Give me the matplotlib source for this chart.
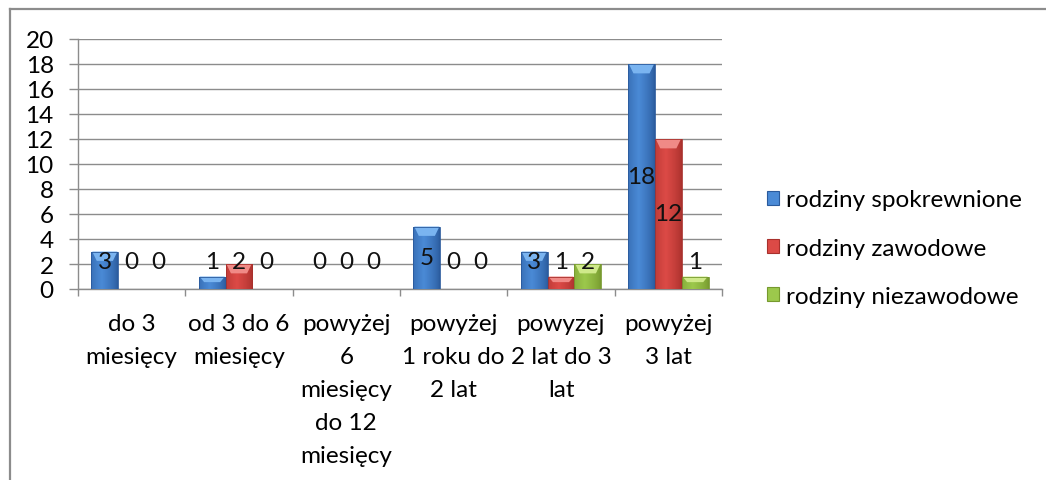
import numpy as np
import matplotlib
matplotlib.use("Agg")
import matplotlib.pyplot as plt
from matplotlib.patches import Polygon, Patch
from matplotlib.lines import Line2D
from matplotlib.colors import to_rgb

plt.rcParams['font.family'] = ['Lato', 'DejaVu Sans']

categories = ["do 3\nmiesięcy", "od 3 do 6\nmiesięcy",
              "powyżej\n6\nmiesięcy\ndo 12\nmiesięcy",
              "powyżej\n1 roku do\n2 lat", "powyzej\n2 lat do 3\nlat",
              "powyżej\n3 lat"]
series_names = ["rodziny spokrewnione", "rodziny zawodowe", "rodziny niezawodowe"]
spokrewnione = [3, 1, 0, 5, 3, 18]
zawodowe = [0, 2, 0, 0, 1, 12]
niezawodowe = [0, 0, 0, 0, 2, 1]
yticks = [0, 2, 4, 6, 8, 10, 12, 14, 16, 18, 20]

series = [spokrewnione, zawodowe, niezawodowe]
# (dark edge, mid, light top)
palettes = [("#2a5a9c", "#4a8ad6", "#7ab4f0"),
            ("#a8302c", "#dc4a46", "#f08a86"),
            ("#76992e", "#9cc84c", "#cfe98a")]

FS = 17.5

fig = plt.figure(figsize=(10.46, 4.81), dpi=100)
ax = fig.add_axes([78/1046, 1-290/481, (722-78)/1046, 250/481])

n = len(categories)
bw = 0.25
x = np.arange(n)
ax.set_xlim(-0.5, n-0.5)
ax.set_ylim(0, 20)

for si, vals in enumerate(series):
    dark, mid, light = palettes[si]
    offs = (si-1)*bw
    bars = ax.bar(x+offs, vals, width=bw, color=mid, edgecolor='none', zorder=3)
    cd, cm, cl = np.array(to_rgb(dark)), np.array(to_rgb(mid)), np.array(to_rgb(light))
    t = np.linspace(0, 1, 64)
    f = np.clip(1 - np.abs(t-0.4)/0.6, 0, 1)**0.7
    grad = cd[None, :]*(1-f[:, None]) + cm[None, :]*f[:, None]
    img = np.concatenate([grad, np.ones((64, 1))], axis=1)[None, :, :]
    for b, v in zip(bars, vals):
        if v <= 0:
            continue
        x0, w, h = b.get_x(), b.get_width(), b.get_height()
        im = ax.imshow(img, extent=[x0, x0+w, 0, h], aspect='auto', zorder=3.5,
                       interpolation='bilinear')
        im.set_clip_path(b)
        bh = min(0.75, h*0.45)
        ax.add_patch(Polygon([[x0+0.03*w, h], [x0+0.97*w, h], [x0+0.8*w, h-bh], [x0+0.2*w, h-bh]],
                             closed=True, facecolor=light, edgecolor='none', zorder=4))
        ax.add_patch(Polygon([[x0, 0], [x0, h], [x0+w, h], [x0+w, 0]], closed=True,
                             facecolor='none', edgecolor=dark, lw=0.6, zorder=4.2))
    for xi, v in zip(x+offs, vals):
        ax.text(xi, max(v/2, 2.2), str(v), ha='center', va='center', fontsize=FS,
                color='#111111', zorder=5)

ax.set_xlim(-0.5, n-0.5)
ax.set_ylim(0, 20)
ax.set_yticks(yticks)
ax.set_yticklabels([str(v) for v in yticks], fontsize=FS)
ax.tick_params(axis='y', length=6.5, width=1, color='#8c8c8c', pad=11)
ax.set_xticks(np.arange(n+1)-0.5)
ax.set_xticklabels([])
ax.tick_params(axis='x', which='major', length=5, width=1, color='#8c8c8c')
ax.set_xticks(x, minor=True)
ax.set_xticklabels(categories, minor=True, fontsize=FS, linespacing=1.71)
ax.tick_params(axis='x', which='minor', length=0, pad=17)
ax.grid(axis='y', color='#8c8c8c', lw=1, zorder=0)
ax.set_axisbelow(True)
for s in ['top', 'right']:
    ax.spines[s].set_visible(False)
for s in ['left', 'bottom']:
    ax.spines[s].set_color('#8c8c8c')
    ax.spines[s].set_linewidth(1)

handles = [Patch(facecolor=p[1], edgecolor=p[0], lw=0.8) for p in palettes]
fig.legend(handles, series_names, loc='center left', bbox_to_anchor=(767/1046, 1-249/481),
           frameon=False, fontsize=FS, handlelength=0.5, handleheight=0.5,
           handletextpad=0.3, labelspacing=1.12, borderpad=0, borderaxespad=0)

fig.add_artist(Line2D([9.5/1046, 9.5/1046], [0, 1-10/481], transform=fig.transFigure,
                      color='#8c8c8c', lw=1.6))
fig.add_artist(Line2D([9.5/1046, 1], [1-10/481, 1-10/481], transform=fig.transFigure,
                      color='#8c8c8c', lw=1.6))

fig.savefig("out.png", dpi=100)
